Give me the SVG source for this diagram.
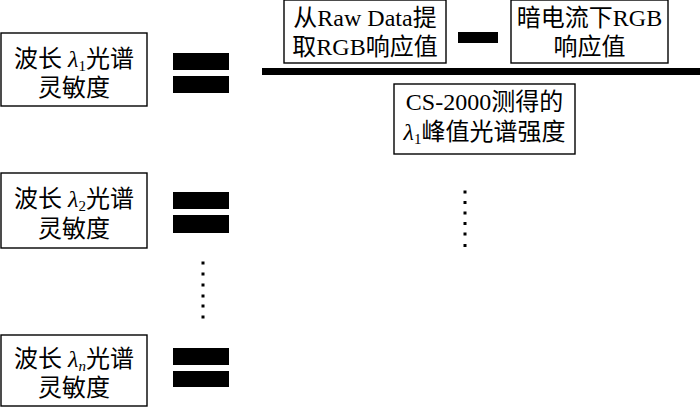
<svg xmlns="http://www.w3.org/2000/svg" width="700" height="410" viewBox="0 0 700 410">
<style>
.box{fill:#fff;stroke:#000;stroke-width:1.4}
.t{font-family:"Liberation Serif","Noto Sans CJK SC",serif;font-size:24px;fill:#000;text-anchor:middle}
.it{font-style:italic}
.sub{font-size:15px}
.bar{fill:#000}
.dot{fill:#000}
</style>
<rect width="700" height="410" fill="#fff"/>
<g id="node-s1">
<rect class="box" x="1" y="33" width="146" height="73"/>
<text class="t" x="74" y="67">波长 <tspan class="it">λ</tspan><tspan class="sub" dy="4">1</tspan><tspan dy="-4">光谱</tspan></text>
<text class="t" x="74" y="96">灵敏度</text>
</g>
<g id="node-s2">
<rect class="box" x="1" y="173" width="146" height="75"/>
<text class="t" x="74" y="207">波长 <tspan class="it">λ</tspan><tspan class="sub" dy="4">2</tspan><tspan dy="-4">光谱</tspan></text>
<text class="t" x="74" y="237">灵敏度</text>
</g>
<g id="node-sn">
<rect class="box" x="1" y="335" width="146" height="71"/>
<text class="t" x="74" y="367">波长 <tspan class="it">λ</tspan><tspan class="sub it" dy="4">n</tspan><tspan dy="-4">光谱</tspan></text>
<text class="t" x="74" y="396">灵敏度</text>
</g>
<g id="node-raw">
<rect class="box" x="284" y="0" width="162" height="63"/>
<text class="t" x="365" y="26">从Raw Data提</text>
<text class="t" x="365" y="55">取RGB响应值</text>
</g>
<g id="node-dark">
<rect class="box" x="511" y="0" width="157" height="63"/>
<text class="t" x="589.5" y="26">暗电流下RGB</text>
<text class="t" x="589.5" y="55">响应值</text>
</g>
<g id="node-cs">
<rect class="box" x="394" y="84" width="181" height="70"/>
<text class="t" x="484.5" y="110">CS-2000测得的</text>
<text class="t" x="484.5" y="140"><tspan class="it">λ</tspan><tspan class="sub" dy="4">1</tspan><tspan dy="-4">峰值光谱强度</tspan></text>
</g>
<g id="connectors">
<rect class="bar" x="173" y="53" width="56" height="17"/>
<rect class="bar" x="173" y="76" width="56" height="17"/>
<rect class="bar" x="173" y="192" width="56" height="17"/>
<rect class="bar" x="173" y="215" width="56" height="18"/>
<rect class="bar" x="173" y="348" width="56" height="17"/>
<rect class="bar" x="173" y="371" width="56" height="16"/>
<rect class="bar" x="458" y="32" width="40" height="11"/>
<rect class="bar" x="262" y="68" width="438" height="7"/>
<g class="dot">
<rect x="463.5" y="190.5" width="3" height="3"/>
<rect x="463.5" y="201" width="3" height="3"/>
<rect x="463.5" y="211.5" width="3" height="3"/>
<rect x="463.5" y="222" width="3" height="3"/>
<rect x="463.5" y="232.5" width="3" height="3"/>
<rect x="463.5" y="244" width="3" height="3"/>
<rect x="201.5" y="261.5" width="3" height="3"/>
<rect x="201.5" y="272.5" width="3" height="3"/>
<rect x="201.5" y="283.5" width="3" height="3"/>
<rect x="201.5" y="294.5" width="3" height="3"/>
<rect x="201.5" y="304.5" width="3" height="3"/>
<rect x="201.5" y="315.5" width="3" height="3"/>
</g>
</g>
</svg>
